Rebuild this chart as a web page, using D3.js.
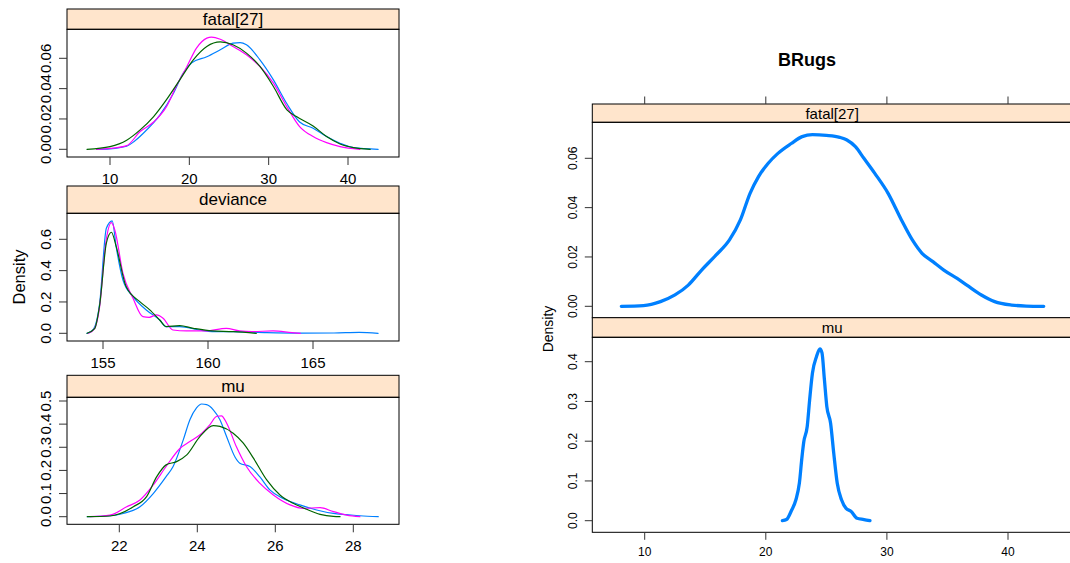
<!DOCTYPE html>
<html>
<head>
<meta charset="utf-8">
<script src="https://cdn.jsdelivr.net/npm/d3@7"></script>
<style>
  html, body { margin: 0; padding: 0; background: #fff; }
  svg { display: block; font-family: "Liberation Sans", Arial, Helvetica, sans-serif; }
</style>
</head>
<body>
<svg id="chart" width="1070" height="563"></svg>
<script>
// ---------------- DATA ----------------
const seriesColors = ["#0080ff", "#ff00ff", "#006400"];
const leftPanelNames = ["fatal[27]", "deviance", "mu"];
const rightPanelNames = ["fatal[27]", "mu"];
const chartTitle = "BRugs";
const yLabel = "Density";

// tick labels
const fatalXTicks = [10, 20, 30, 40];
const fatalYTicks = [0.00, 0.02, 0.04, 0.06];
const devXTicks = [155, 160, 165];
const devYTicks = [0.0, 0.2, 0.4, 0.6];
const muXTicks = [22, 24, 26, 28];
const muYTicks = [0.0, 0.1, 0.2, 0.3, 0.4, 0.5];
const rightXTicks = [10, 20, 30, 40];
const rightFatalYTicks = [0.00, 0.02, 0.04, 0.06];
const rightMuYTicks = [0.0, 0.1, 0.2, 0.3, 0.4];

// fatal[27], three chains
const fatalChain1 = [[8.3,0],[10,0.0003],[12.1,0.002],[13,0.005],[14.2,0.0106],[16.3,0.0227],[18,0.037],[19.2,0.050],[20.3,0.057],[22.2,0.061],[23.9,0.0656],[25.5,0.070],[26.4,0.0704],[27.2,0.0689],[28.9,0.059],[30.6,0.0458],[32.3,0.030],[33.9,0.018],[35.6,0.0139],[37.3,0.0084],[39,0.004],[40.7,0.0011],[43.8,0]];
const fatalChain2 = [[8.3,0],[10,0.0006],[12.1,0.0024],[13.8,0.0117],[15.5,0.018],[17.1,0.028],[18.4,0.042],[19.7,0.0546],[20.9,0.0667],[22.2,0.0733],[22.8,0.074],[23.9,0.0726],[25.5,0.0678],[27.2,0.0623],[28.9,0.0546],[30.6,0.0436],[32.3,0.028],[33.9,0.015],[35.6,0.0084],[37.3,0.0044],[39,0.0018],[41.5,0]];
const fatalChain3 = [[7.1,0],[10,0.0018],[12.1,0.006],[13.8,0.0128],[15.5,0.0216],[17.1,0.0326],[18.8,0.0458],[20.5,0.059],[22.2,0.0678],[23.9,0.0708],[25.5,0.0689],[27.2,0.0634],[28.9,0.0546],[30.6,0.0414],[32.3,0.026],[33.5,0.0216],[35.6,0.0154],[37.3,0.0084],[39,0.0035],[40.7,0.0011],[42.8,0]];

// deviance, three chains
const devChain1 = [[154.24,0],[154.52,0.021],[154.84,0.19],[155.16,0.67],[155.44,0.717],[155.63,0.55],[155.95,0.34],[156.43,0.234],[157.06,0.149],[157.7,0.085],[158.0,0.043],[158.65,0.043],[159.6,0.021],[160.2,0.011],[161.2,0.011],[162.8,0.004],[164.4,0.001],[166,0.002],[167.2,0.006],[168.1,0]];
const devChain2 = [[154.3,0],[154.6,0.03],[154.84,0.17],[155.13,0.575],[155.4,0.706],[155.56,0.66],[155.95,0.383],[156.43,0.223],[156.9,0.106],[157.2,0.102],[157.54,0.117],[157.86,0.096],[158.33,0.021],[158.97,0.015],[159.9,0.015],[160.87,0.032],[161.5,0.015],[162.1,0.011],[163.1,0.015],[164.0,0.004],[164.4,0]];
const devChain3 = [[154.24,0],[154.6,0.03],[154.84,0.18],[155.16,0.575],[155.4,0.645],[155.63,0.553],[156.1,0.298],[156.75,0.202],[157.2,0.153],[157.7,0.085],[158.0,0.043],[158.65,0.049],[159.3,0.032],[160.2,0.015],[161.2,0.011],[162.3,0]];

// mu, three chains
const muChain1 = [[21.18,0],[21.76,0.004],[22.1,0.014],[22.53,0.043],[22.87,0.10],[23.2,0.173],[23.38,0.217],[23.64,0.332],[23.81,0.419],[23.98,0.47],[24.11,0.487],[24.24,0.484],[24.41,0.462],[24.58,0.419],[24.75,0.347],[24.97,0.257],[25.09,0.231],[25.35,0.217],[25.6,0.173],[25.86,0.116],[26.2,0.079],[26.63,0.051],[27.06,0.029],[27.49,0.014],[27.83,0.009],[28.17,0.004],[28.64,0]];
const muChain2 = [[21.25,0],[21.76,0.007],[22.19,0.043],[22.53,0.072],[22.87,0.137],[23.2,0.217],[23.56,0.296],[23.81,0.325],[24.07,0.354],[24.32,0.397],[24.5,0.434],[24.62,0.436],[24.75,0.405],[25.0,0.303],[25.26,0.217],[25.6,0.145],[25.95,0.094],[26.38,0.051],[26.72,0.036],[27.15,0.039],[27.49,0.022],[27.83,0.007],[28.17,0]];
const muChain3 = [[21.18,0],[21.76,0.003],[22.36,0.043],[22.7,0.087],[22.96,0.173],[23.2,0.224],[23.47,0.238],[23.73,0.267],[24.07,0.347],[24.41,0.394],[24.58,0.39],[24.92,0.361],[25.18,0.318],[25.44,0.253],[25.78,0.159],[26.12,0.094],[26.46,0.058],[26.8,0.032],[27.15,0.01],[27.49,0.001],[27.66,0]];

// BRugs (right) densities
const brugsFatal = [[8.07,0],[9.9,0.0003],[11.3,0.0019],[12.5,0.0046],[13.6,0.0086],[14.7,0.0147],[15.9,0.0208],[17.0,0.0269],[17.9,0.035],[18.7,0.0458],[19.4,0.0526],[20.2,0.058],[21.0,0.062],[22.1,0.066],[23.0,0.0688],[23.85,0.0696],[25.0,0.0693],[26.1,0.0685],[26.7,0.0674],[27.4,0.0647],[28.1,0.060],[29.0,0.0539],[30.1,0.0458],[31.2,0.035],[32.1,0.0269],[32.9,0.0215],[33.8,0.0181],[34.7,0.0147],[35.8,0.0113],[36.6,0.0086],[37.8,0.0046],[38.9,0.0019],[40.3,0.0005],[41.5,0.0001],[42.95,0]];
const brugsMu = [[21.37,0],[21.71,0.003],[22.14,0.027],[22.48,0.052],[22.77,0.094],[22.99,0.161],[23.14,0.199],[23.42,0.237],[23.62,0.304],[23.85,0.371],[24.19,0.413],[24.47,0.432],[24.64,0.422],[24.84,0.355],[25.04,0.287],[25.35,0.245],[25.61,0.17],[25.9,0.094],[26.26,0.052],[26.63,0.031],[27.03,0.024],[27.54,0.006],[28.11,0.003],[28.6,0]];

// ---------------- DRAWING ----------------
const svg = d3.select("#chart");
const STRIP_FILL = "#ffe5cc";
const TICK_COL = "#333";

function fmt(step) {
  const dec = step < 0.1 ? 2 : (step < 1 ? 1 : 0);
  return d => d3.format("." + dec + "f")(d);
}

let clipId = 0;
function panel(cfg) {
  const g = svg.append("g");
  const x = d3.scaleLinear().domain(cfg.xAnchor).range(cfg.xPix);
  const y = d3.scaleLinear().domain(cfg.yAnchor).range(cfg.yPix);
  const {left, right, top, bottom, stripTop} = cfg;

  // strip
  g.append("rect").attr("x", left).attr("y", stripTop).attr("width", right - left)
    .attr("height", top - stripTop).attr("fill", STRIP_FILL).attr("stroke", "#000").attr("stroke-width", 1);
  g.append("text").attr("x", (left + right) / 2).attr("y", (stripTop + top) / 2)
    .attr("text-anchor", "middle").attr("dominant-baseline", "central")
    .attr("font-size", cfg.stripFont).text(cfg.name);

  // plot box
  g.append("rect").attr("x", left).attr("y", top).attr("width", right - left)
    .attr("height", bottom - top).attr("fill", "none").attr("stroke", "#000").attr("stroke-width", 1);

  // clip
  const id = "clip" + (clipId++);
  svg.append("clipPath").attr("id", id).append("rect")
    .attr("x", left).attr("y", top).attr("width", right - left).attr("height", bottom - top);

  const line = d3.line().x(d => x(d[0])).y(d => y(d[1])).curve(d3.curveMonotoneX);
  const lg = g.append("g").attr("clip-path", `url(#${id})`);
  cfg.series.forEach((s, i) => {
    lg.append("path").datum(s).attr("d", line).attr("fill", "none")
      .attr("stroke", cfg.colors[i]).attr("stroke-width", cfg.lineWidth)
      .attr("stroke-linejoin", "round").attr("stroke-linecap", "round");
  });

  // y axis
  if (cfg.yTicks) {
    const yf = fmt(cfg.yTicks[1] - cfg.yTicks[0]);
    cfg.yTicks.forEach(t => {
      g.append("line").attr("x1", left - cfg.tickLen).attr("x2", left)
        .attr("y1", y(t)).attr("y2", y(t)).attr("stroke", TICK_COL).attr("stroke-width", 1);
      g.append("text").attr("transform", `translate(${cfg.yLabelX},${y(t)}) rotate(-90)`)
        .attr("text-anchor", "middle").attr("dominant-baseline", "central")
        .attr("font-size", cfg.tickFont).text(yf(t));
    });
  }
  // x axis bottom
  if (cfg.xTicks) {
    cfg.xTicks.forEach(t => {
      g.append("line").attr("x1", x(t)).attr("x2", x(t))
        .attr("y1", bottom).attr("y2", bottom + cfg.tickLen).attr("stroke", TICK_COL).attr("stroke-width", 1);
      g.append("text").attr("x", x(t)).attr("y", bottom + cfg.xLabelOff)
        .attr("text-anchor", "middle").attr("dominant-baseline", "central")
        .attr("font-size", cfg.tickFont).text(t);
    });
  }
  // x ticks top (no labels)
  if (cfg.xTopTicks) {
    cfg.xTopTicks.forEach(t => {
      g.append("line").attr("x1", x(t)).attr("x2", x(t))
        .attr("y1", stripTop - cfg.tickLen).attr("y2", stripTop).attr("stroke", TICK_COL).attr("stroke-width", 1);
    });
  }
  return {x, y};
}

// ---- left: coda-style densityplot with 3 chains ----
const L = {left: 67, right: 399, tickLen: 8, yLabelX: 45, xLabelOff: 21.5, tickFont: 15, stripFont: 17, lineWidth: 1.2, colors: seriesColors};

panel(Object.assign({}, L, {
  name: leftPanelNames[0], stripTop: 9, top: 29.3, bottom: 157,
  xAnchor: [10, 40], xPix: [110, 348], yAnchor: [0, 0.06], yPix: [149.3, 58.3],
  xTicks: fatalXTicks, yTicks: fatalYTicks, series: [fatalChain1, fatalChain2, fatalChain3]
}));
panel(Object.assign({}, L, {
  name: leftPanelNames[1], stripTop: 186, top: 213.3, bottom: 341,
  xAnchor: [155, 165], xPix: [103, 313], yAnchor: [0, 0.6], yPix: [333.3, 239.3],
  xTicks: devXTicks, yTicks: devYTicks, series: [devChain1, devChain2, devChain3]
}));
panel(Object.assign({}, L, {
  name: leftPanelNames[2], stripTop: 375.3, top: 397.3, bottom: 524.3,
  xAnchor: [22, 28], xPix: [119.3, 353.3], yAnchor: [0, 0.5], yPix: [516.7, 401],
  xTicks: muXTicks, yTicks: muYTicks, series: [muChain1, muChain2, muChain3]
}));

svg.append("text").attr("transform", "translate(19,277) rotate(-90)")
  .attr("text-anchor", "middle").attr("dominant-baseline", "central")
  .attr("font-size", 16.5).text(yLabel);

// ---- right: BRugs lattice plot ----
const R = {left: 592.3, right: 1072, tickLen: 7.5, yLabelX: 572.7, xLabelOff: 20, tickFont: 12, stripFont: 15, lineWidth: 3.3, colors: [seriesColors[0]],
  xAnchor: [10, 40], xPix: [644.7, 1008]};

panel(Object.assign({}, R, {
  name: rightPanelNames[0], stripTop: 104, top: 122.3, bottom: 317.7,
  yAnchor: [0, 0.06], yPix: [306.3, 158.3],
  xTopTicks: rightXTicks, yTicks: rightFatalYTicks, series: [brugsFatal]
}));
panel(Object.assign({}, R, {
  name: rightPanelNames[1], stripTop: 317.7, top: 337.3, bottom: 532.3,
  yAnchor: [0, 0.4], yPix: [520.7, 361.7],
  xTicks: rightXTicks, yTicks: rightMuYTicks, series: [brugsMu]
}));

svg.append("text").attr("transform", "translate(548,329) rotate(-90)")
  .attr("text-anchor", "middle").attr("dominant-baseline", "central")
  .attr("font-size", 14).text(yLabel);

svg.append("text").attr("x", 807).attr("y", 66)
  .attr("text-anchor", "middle").attr("font-size", 18).attr("font-weight", "bold")
  .text(chartTitle);
</script>
</body>
</html>
